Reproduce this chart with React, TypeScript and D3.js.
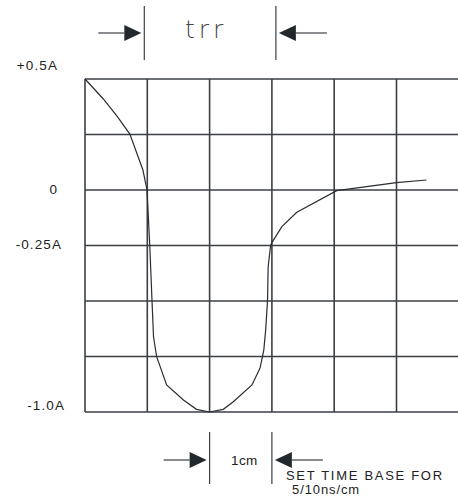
import React, { useEffect, useRef } from 'react';
import * as d3 from 'd3';

// trace in grid divisions (x) and amps (y)
const timeDiv = [0, 0.294, 0.514, 0.72, 0.93, 0.995, 1.04, 1.075, 1.1, 1.15, 1.31, 1.58, 1.79, 2.0, 2.22, 2.38, 2.68, 2.81, 2.87, 2.9, 2.93, 2.94, 2.98, 3.0, 3.16, 3.4, 4.04, 5.0, 5.48];
const current = [0.5, 0.41, 0.333, 0.252, 0.09, 0.0, -0.252, -0.495, -0.661, -0.751, -0.878, -0.946, -0.988, -1.0, -0.988, -0.954, -0.878, -0.802, -0.721, -0.631, -0.495, -0.345, -0.248, -0.237, -0.165, -0.1, -0.003, 0.033, 0.045];

const yLabels = ['+0.5A', '0', '-0.25A', '-1.0A'];
const yLabelValues = [0.5, 0, -0.25, -1.0];

const W = 458;
const H = 497;
const ink = '#3b3f44';
const font = 'Liberation Sans, Arial, sans-serif';

const App: React.FC = () => {
  const ref = useRef<SVGSVGElement>(null);

  useEffect(() => {
    if (!ref.current) return;
    const svg = d3.select(ref.current);
    svg.selectAll('*').remove();

    const x = d3.scaleLinear().domain([0, 6]).range([85, 458.8]);
    const y = d3.scaleLinear().domain([-1, 0.5]).range([412, 79]);

    const grid = svg.append('g').attr('stroke', ink).attr('stroke-width', 1.6);
    // vertical grid lines
    grid.selectAll('line.v')
      .data(d3.range(0, 7))
      .enter()
      .append('line')
      .attr('x1', d => x(d))
      .attr('x2', d => x(d))
      .attr('y1', y(0.5))
      .attr('y2', y(-1));
    // horizontal grid lines, one every 0.25A
    grid.selectAll('line.h')
      .data(d3.range(0, 7).map(i => 0.5 - i * 0.25))
      .enter()
      .append('line')
      .attr('x1', x(0))
      .attr('x2', x(6))
      .attr('y1', d => y(d))
      .attr('y2', d => y(d));

    // trace
    const pts = timeDiv.map((t, i) => [t, current[i]] as [number, number]);
    const line = d3.line<[number, number]>()
      .x(d => x(d[0]))
      .y(d => y(d[1]))
      .curve(d3.curveLinear);
    svg.append('path')
      .attr('d', line(pts))
      .attr('fill', 'none')
      .attr('stroke', '#2a2e33')
      .attr('stroke-width', 1.2);

    // y labels
    const labelX = [58, 58, 62, 65];
    const labelDy = [-9, 4, 3, -2];
    svg.selectAll('text.ylab')
      .data(yLabels)
      .enter()
      .append('text')
      .attr('x', (_, i) => labelX[i])
      .attr('y', (_, i) => y(yLabelValues[i]) + labelDy[i])
      .attr('text-anchor', 'end')
      .attr('font-family', font)
      .attr('font-size', 13.5)
      .attr('letter-spacing', 1.1)
      .attr('fill', '#222')
      .text(d => d);

    // dimension marker helper: vertical tick + arrow pointing at it
    const marker = (vx: number, y1: number, y2: number, ay: number, dir: 1 | -1, tail: number) => {
      svg.append('line')
        .attr('x1', vx).attr('x2', vx).attr('y1', y1).attr('y2', y2)
        .attr('stroke', ink).attr('stroke-width', 1.2);
      const tip = vx - dir * 3;
      const base = tip - dir * 17;
      svg.append('path')
        .attr('d', `M${tip},${ay} L${base},${ay - 8} L${base},${ay + 8} Z`)
        .attr('fill', '#23282d');
      svg.append('line')
        .attr('x1', base).attr('x2', base - dir * tail).attr('y1', ay).attr('y2', ay)
        .attr('stroke', ink).attr('stroke-width', 1.2);
    };

    // trr markers at one and three divisions
    marker(x(1) - 3, 6, 60, 33, 1, 26);
    marker(x(3) + 4, 6, 60, 33, -1, 31);
    svg.append('text')
      .attr('x', 185).attr('y', 38)
      .attr('font-family', 'DejaVu Sans, sans-serif')
      .attr('font-weight', 200)
      .attr('font-size', 25)
      .attr('letter-spacing', 4)
      .attr('fill', '#444')
      .text('trr');

    // 1cm markers
    marker(x(2), 432, 484, 460, 1, 26);
    marker(x(3), 432, 484, 460, -1, 31);
    svg.append('text')
      .attr('x', 231).attr('y', 465)
      .attr('font-family', font)
      .attr('font-size', 13.5)
      .attr('letter-spacing', 0.4)
      .attr('fill', '#222')
      .text('1cm');
    svg.append('text')
      .attr('x', 286).attr('y', 480)
      .attr('font-family', font)
      .attr('font-size', 13)
      .attr('letter-spacing', 1.7)
      .attr('fill', '#222')
      .text('SET TIME BASE FOR');
    svg.append('text')
      .attr('x', 292).attr('y', 494)
      .attr('font-family', font)
      .attr('font-size', 13)
      .attr('letter-spacing', 0.9)
      .attr('fill', '#222')
      .text('5/10ns/cm');
  }, []);

  return (
    <svg
      ref={ref}
      width={W}
      height={H}
      style={{ position: 'absolute', left: 0, top: 0, background: '#fff' }}
    />
  );
};

export default App;
